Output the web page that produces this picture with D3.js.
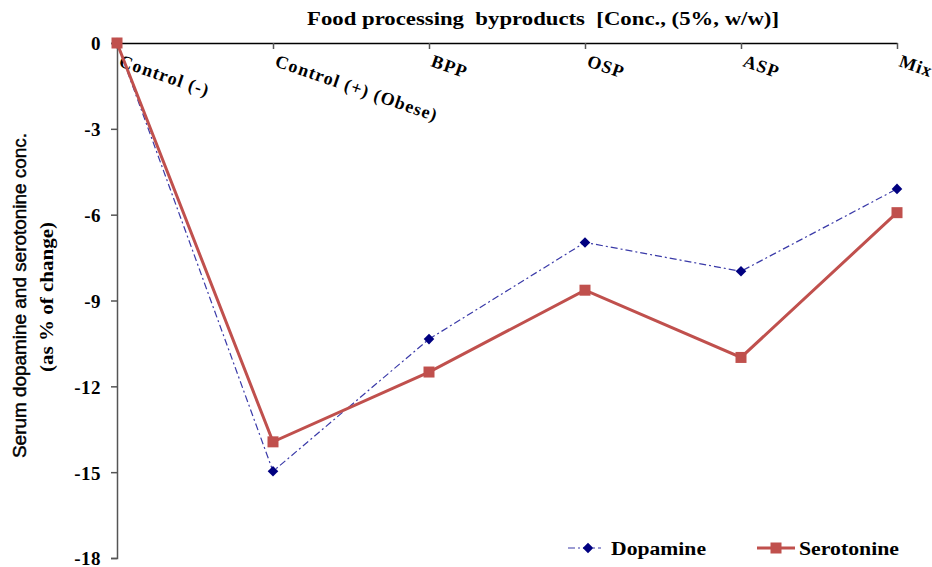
<!DOCTYPE html>
<html><head><meta charset="utf-8">
<script src="https://cdn.jsdelivr.net/npm/d3@7"></script>
<style>body{margin:0;background:#fff}</style>
</head><body>
<svg id="c" width="932" height="567"></svg>
<script>
const categories = ["Control (-)", "Control (+) (Obese)", "BPP", "OSP", "ASP", "Mix"];
const dopamine = [0, -14.97, -10.35, -6.97, -7.98, -5.1];
const serotonine = [0, -13.94, -11.5, -8.64, -10.99, -5.93];
const yTicks = [0, -3, -6, -9, -12, -15, -18];

const svg = d3.select("#c");
const x = d3.scalePoint().domain(categories).range([117, 897]);
const y = d3.scaleLinear().domain([-18, 0]).range([558, 43]);
const serif = "Liberation Serif, Times New Roman, serif";

// y axis
const ya = svg.append("g").attr("transform", "translate(117,0)")
  .call(d3.axisLeft(y).tickValues(yTicks).tickSize(6).tickFormat(d3.format("d")));
ya.select(".domain").attr("stroke", "#555").attr("stroke-width", 1.5);
ya.selectAll(".tick line").attr("stroke", "#555").attr("stroke-width", 1.5);
ya.selectAll(".tick text").attr("font-family", serif).attr("font-weight", "bold")
  .attr("font-size", 19).attr("fill", "#000").attr("x", -16).attr("dy", "0.36em")
  .attr("letter-spacing", 0.5)
  .text(d => d === 0 ? "0" : "-" + Math.abs(d));

// x axis at top (y=0)
const xa = svg.append("g").attr("transform", `translate(0,${y(0)})`)
  .call(d3.axisBottom(x).tickSize(6).tickSizeOuter(0).tickFormat(""));
xa.select(".domain").attr("stroke", "#000").attr("stroke-width", 1.5);
xa.selectAll(".tick line").attr("stroke", "#555").attr("stroke-width", 1.5);

// category labels rotated
svg.append("g").selectAll("text").data(categories).join("text")
  .attr("transform", d => `translate(${x(d) + 1},${y(0) + 23}) rotate(19)`)
  .attr("font-family", serif).attr("font-weight", "bold")
  .attr("font-size", 18).attr("letter-spacing", 1.1).attr("fill", "#000")
  .text(d => d);

// title
svg.append("text").attr("x", 307).attr("y", 25).style("white-space", "pre")
  .attr("font-family", serif).attr("font-weight", "bold").attr("font-size", 19)
  .attr("textLength", 472).attr("lengthAdjust", "spacingAndGlyphs")
  .text("Food processing  byproducts  [Conc., (5%, w/w)]");

// y titles
svg.append("text").attr("transform", "translate(26,458) rotate(-90)")
  .attr("font-family", "Liberation Sans, Arial, sans-serif").attr("font-size", 19)
  .attr("stroke", "#000").attr("stroke-width", 0.45)
  .attr("textLength", 325).attr("lengthAdjust", "spacingAndGlyphs")
  .text("Serum dopamine and serotonine conc.");
svg.append("text").attr("transform", "translate(53,372) rotate(-90)")
  .attr("font-family", serif).attr("font-weight", "bold").attr("font-size", 19)
  .attr("textLength", 150).attr("lengthAdjust", "spacingAndGlyphs")
  .text("(as % of change)");

const line = d3.line().x((d, i) => x(categories[i])).y(d => y(d));

// dopamine
svg.append("path").datum(dopamine).attr("d", line).attr("fill", "none")
  .attr("stroke", "#3a3aa8").attr("stroke-width", 1.2).attr("stroke-dasharray", "7,3,2,3");
// serotonine
svg.append("path").datum(serotonine).attr("d", line).attr("fill", "none")
  .attr("stroke", "#c0504d").attr("stroke-width", 3);

svg.append("g").selectAll("path").data(dopamine).join("path")
  .attr("transform", (d, i) => `translate(${x(categories[i])},${y(d)}) rotate(45)`)
  .attr("d", d3.symbol().type(d3.symbolSquare).size(56)).attr("fill", "#000080");
svg.append("g").selectAll("rect").data(serotonine).join("rect")
  .attr("x", (d, i) => x(categories[i]) - 5.5).attr("y", d => y(d) - 5.5)
  .attr("width", 11).attr("height", 11).attr("fill", "#c0504d");

// legend
const lg = svg.append("g");
lg.append("line").attr("x1", 568).attr("x2", 601).attr("y1", 548).attr("y2", 548)
  .attr("stroke", "#3a3aa8").attr("stroke-width", 1.2).attr("stroke-dasharray", "7,3,2,3");
lg.append("path").attr("transform", "translate(588,548) rotate(45)")
  .attr("d", d3.symbol().type(d3.symbolSquare).size(56)).attr("fill", "#000080");
lg.append("text").attr("x", 611).attr("y", 555).attr("font-family", serif)
  .attr("font-weight", "bold").attr("font-size", 19)
  .attr("textLength", 95).attr("lengthAdjust", "spacingAndGlyphs").text("Dopamine");
lg.append("line").attr("x1", 757).attr("x2", 795).attr("y1", 548).attr("y2", 548)
  .attr("stroke", "#c0504d").attr("stroke-width", 3);
lg.append("rect").attr("x", 770.5).attr("y", 542.5).attr("width", 11).attr("height", 11).attr("fill", "#c0504d");
lg.append("text").attr("x", 799).attr("y", 555).attr("font-family", serif)
  .attr("font-weight", "bold").attr("font-size", 19)
  .attr("textLength", 100).attr("lengthAdjust", "spacingAndGlyphs").text("Serotonine");
</script>
</body></html>
